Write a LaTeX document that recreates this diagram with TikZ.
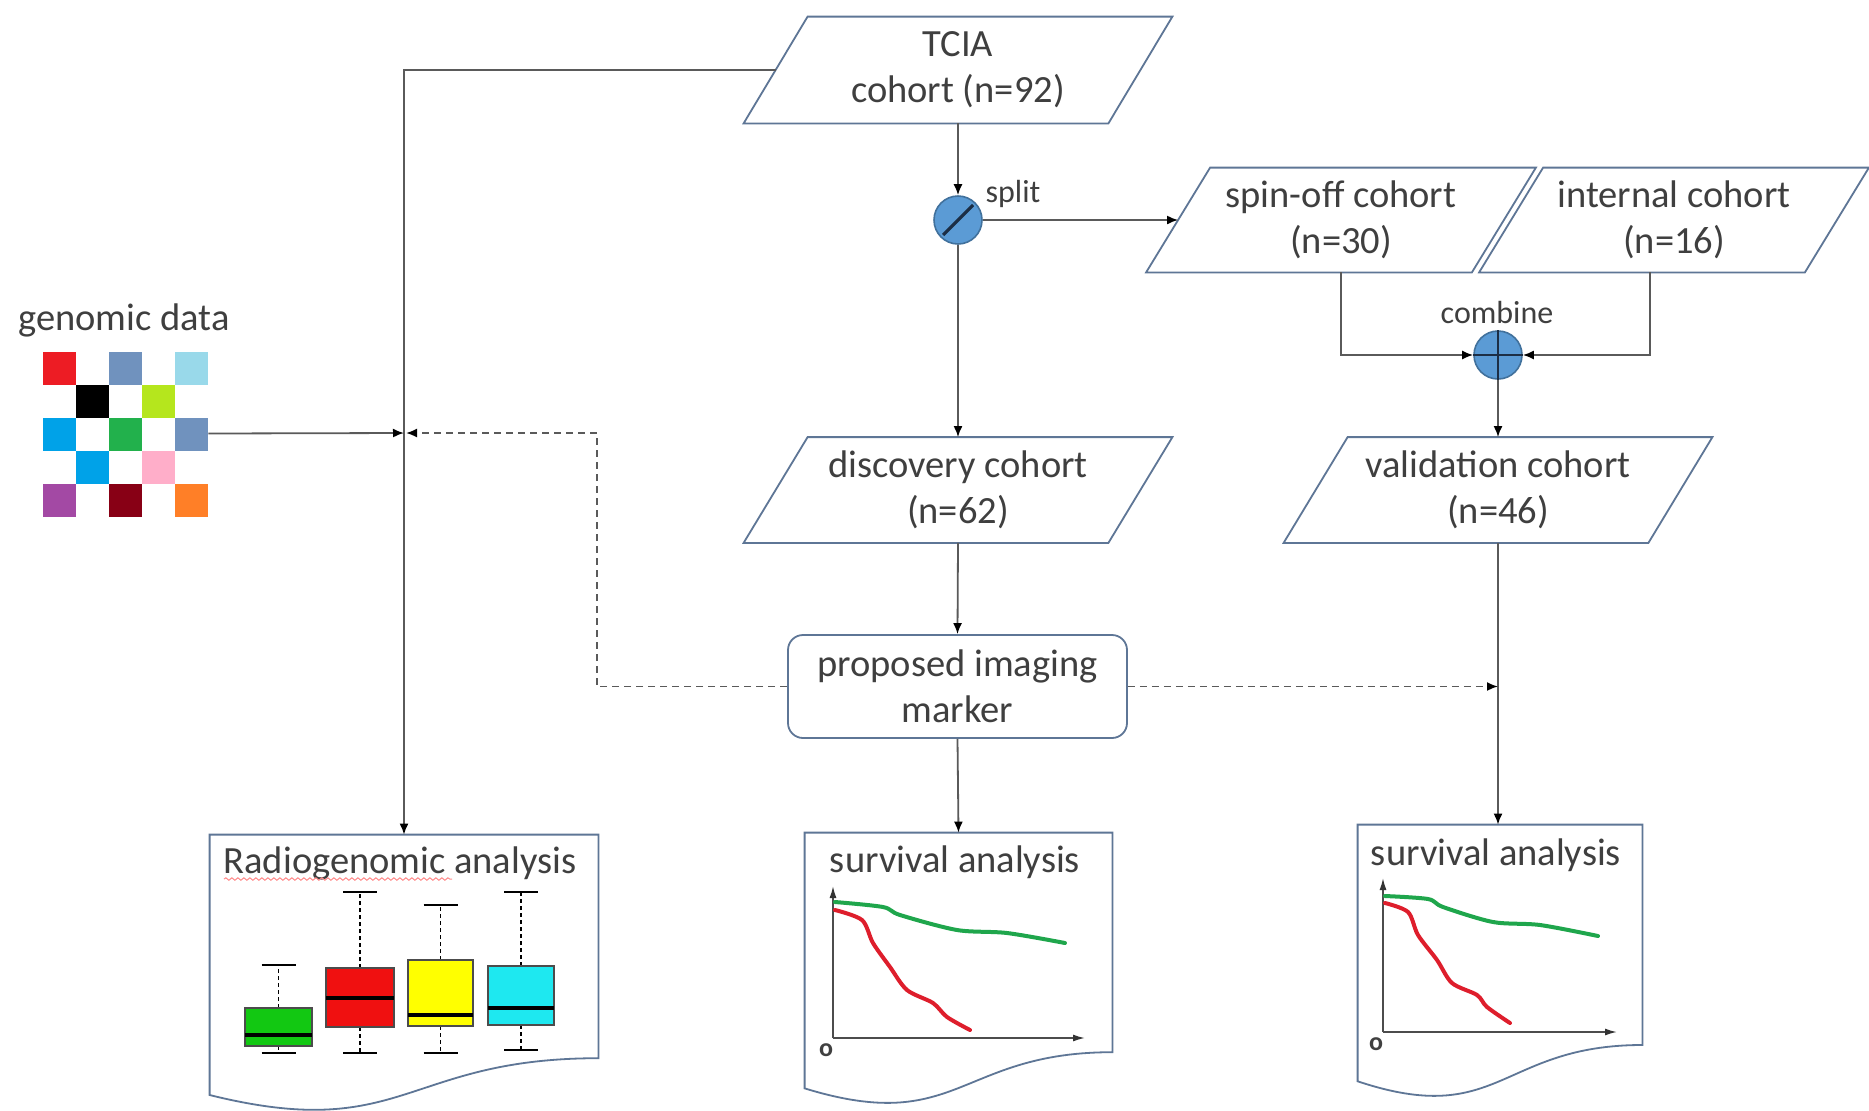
\documentclass[tikz,border=0pt]{standalone}
\usepackage{fontspec}
\setmainfont{Carlito}
\usetikzlibrary{arrows.meta,calc,decorations.pathmorphing}
\definecolor{txt}{HTML}{3F3F3F}
\definecolor{edge}{HTML}{5E7696}
\definecolor{conn}{HTML}{5A5A5A}
\definecolor{cfill}{HTML}{5B9BD5}
\definecolor{cdraw}{HTML}{41719C}
\definecolor{cmark}{HTML}{1C2E45}
\definecolor{gRed}{HTML}{ED1C24}
\definecolor{gSteel}{HTML}{7092BE}
\definecolor{gLight}{HTML}{99D9EA}
\definecolor{gLime}{HTML}{B5E61D}
\definecolor{gBlue}{HTML}{00A2E8}
\definecolor{gGreen}{HTML}{22B14C}
\definecolor{gPink}{HTML}{FFAEC9}
\definecolor{gPurple}{HTML}{A349A4}
\definecolor{gDark}{HTML}{880015}
\definecolor{gOrange}{HTML}{FF7F27}
\definecolor{kmGreen}{HTML}{1FA64C}
\definecolor{kmRed}{HTML}{DE1E2C}
\definecolor{bxGreen}{HTML}{12C812}
\definecolor{bxRed}{HTML}{F01010}
\definecolor{bxYellow}{HTML}{FFFF00}
\definecolor{bxCyan}{HTML}{1EE8F0}
\newcommand\drawpara[1]{\draw[paraline] ([xshift=-16pt]#1.south west) -- ([xshift=16pt]#1.north west) -- ([xshift=16pt]#1.north east) -- ([xshift=-16pt]#1.south east) -- cycle;}
\newcommand\drawdoc[1]{\draw[paraline] (#1.north west) -- (#1.north east) -- ($(#1.north east)!0.802!(#1.south east)$) .. controls ($(#1.north)!0.802!(#1.south)$) and ($(#1.north)!1.107!(#1.south)$) .. ($(#1.north west)!0.934!(#1.south west)$) -- cycle;}
\newcommand\boxp[8]{%
  \draw[whisk] ({(#1+#2)/2},#3) -- ({(#1+#2)/2},#6);
  \draw[whisk] ({(#1+#2)/2},#4) -- ({(#1+#2)/2},#7);
  \draw[capl] ({(#1+#2)/2-17},#6) -- ({(#1+#2)/2+17},#6);
  \draw[capl] ({(#1+#2)/2-17},#7) -- ({(#1+#2)/2+17},#7);
  \filldraw[fill=#8, draw=black!70, line width=0.6pt] (#1,#3) rectangle (#2,#4);
  \draw[line width=2pt, black] (#1,#5) -- (#2,#5);}
\begin{document}
\begin{tikzpicture}[x=0.5pt,y=-0.5pt,
  font=\fontsize{19.25pt}{23pt}\selectfont, text=txt,
  paraline/.style={draw=edge, line width=0.9pt},
  para/.style={minimum height=52.5pt, inner sep=0pt, align=center},
  small/.style={font=\fontsize{16pt}{19pt}\selectfont},
  circ/.style={circle, fill=cfill, draw=cdraw, line width=0.8pt, minimum size=24pt, inner sep=0pt},
  arr/.style={draw=conn, line width=0.9pt, -{Latex[length=5.5pt,width=4.5pt,color=black]}},
  darr/.style={arr, dash pattern=on 3.5pt off 2.5pt},
  whisk/.style={black, line width=0.7pt, dash pattern=on 2pt off 1.5pt},
  capl/.style={black, line width=0.7pt},
  axisl/.style={draw=black!70, line width=0.8pt, -{Latex[length=6pt,width=3.5pt,color=black!80]}},
  km/.style={line width=2pt, line join=round, line cap=round}]
\useasboundingbox (0,0) rectangle (1869,1110);
\fill[white] (0,0) rectangle (1869,1110);

% parallelogram nodes
\node[para, minimum width=182pt, minimum height=53pt] (tcia) at (958,70) {TCIA\\cohort (n=92)};
\node[para, minimum width=162.5pt, minimum height=52pt] (spin) at (1341,220) {spin-off cohort\\(n=30)};
\node[para, minimum width=162.5pt, minimum height=52pt] (internal) at (1674,220) {internal cohort\\(n=16)};
\node[para, minimum width=182pt] (disc) at (958,490) {discovery cohort\\(n=62)};
\node[para, minimum width=182pt] (valid) at (1498,490) {validation cohort\\(n=46)};
\drawpara{tcia}\drawpara{spin}\drawpara{internal}\drawpara{disc}\drawpara{valid}

% marker
\node[draw=edge, line width=0.9pt, rounded corners=7.5pt, minimum width=169.5pt, minimum height=51.5pt, inner sep=0pt, align=center] (marker) at (957.5,686.5) {proposed imaging\\marker};

% operators
\node[circ] (split) at (958,220) {};
\draw[cmark, line width=1.6pt] ($(split.center)+(-15,15)$) -- ($(split.center)+(15,-15)$);
\node[small] (splitl) at (1013,194) {split};
\node[circ] (comb) at (1498,355) {};
\draw[cmark, line width=1.4pt] (comb.north) -- (comb.south) (comb.west) -- (comb.east);
\node[small] (combl) at (1497,312) {combine};

% documents
\node[minimum width=194pt, minimum height=139pt, inner sep=0pt] (rg) at (404,974) {};
\node[minimum width=153.5pt, minimum height=136.5pt, inner sep=0pt] (s1) at (958.5,969.5) {};
\node[minimum width=142pt, minimum height=137pt, inner sep=0pt] (s2) at (1500,962) {};
\drawdoc{rg}\drawdoc{s1}\drawdoc{s2}
\node (rgt) at (400,863) {Radiogenomic analysis};
\draw[red!45, line width=0.5pt, decorate, decoration={snake, amplitude=0.6pt, segment length=3pt}] (224,879) -- (452,879);
\node (s1t) at (955,862) {survival analysis};
\node (s2t) at (1496,855) {survival analysis};

% genomic data grid
\node (genl) at (124,320) {genomic data};
\node[minimum width=82.5pt, minimum height=81.5pt, inner sep=0pt] (gen) at (125.5,433.5) {};
\foreach \c/\r/\col in {0/0/gRed,2/0/gSteel,4/0/gLight,1/1/black,3/1/gLime,0/2/gBlue,2/2/gGreen,4/2/gSteel,1/3/gBlue,3/3/gPink,0/4/gPurple,2/4/gDark,4/4/gOrange}
  \fill[\col] ({43+33*\c},{352+33*\r}) rectangle ++(33,33);

% connectors
\coordinate (jn) at (404,433);
\coordinate (dl) at (597,433);
\draw[arr] (tcia.south) -- (split.north);
\draw[arr] (split.east) -- (spin.west);
\draw[arr] (split.south) -- (disc.north);
\draw[arr] (disc.south) -- (marker.north);
\draw[arr] (marker.south) -- (s1.north);
\draw[arr] (spin.south) |- (comb.west);
\draw[arr] ([xshift=-12pt]internal.south) |- (comb.east);
\draw[arr] (comb.south) -- (valid.north);
\draw[arr] (valid.south) -- (valid.south |- s2.north);
\draw[arr] (tcia.west) -| (rg.north);
\draw[arr] (gen.east) -- (jn);
\draw[darr] (marker.west) -| (dl) -- ([xshift=1pt]jn);
\draw[darr] (marker.east) -- (marker.east -| valid.south);

% boxplots
\boxp{245}{312}{1008}{1046}{1035}{965}{1053}{bxGreen}
\boxp{326}{394}{968}{1027}{998}{892}{1053}{bxRed}
\boxp{408}{473}{960}{1026}{1015}{905}{1053}{bxYellow}
\boxp{488}{554}{966}{1025}{1008}{892}{1050}{bxCyan}

% survival plot 1
\draw[axisl] (833,1038) -- (833,886);
\draw[axisl] (833,1038) -- (1085,1038);
\node[font=\fontsize{13pt}{15pt}\selectfont\bfseries, text=black!75] (o1) at (826,1050) {o};
\draw[km, kmGreen] plot[smooth, tension=0.5] coordinates {(835,902) (883,907) (900,915) (957,930) (1007,933) (1065,943)};
\draw[km, kmRed] plot[smooth, tension=0.5] coordinates {(835,910) (862,920) (873,943) (890,967) (907,990) (933,1003) (947,1017) (970,1030)};

% survival plot 2
\draw[axisl] (1383,1032) -- (1383,878);
\draw[axisl] (1383,1032) -- (1617,1032);
\node[font=\fontsize{13pt}{15pt}\selectfont\bfseries, text=black!75] (o2) at (1376,1044) {o};
\draw[km, kmGreen] plot[smooth, tension=0.5] coordinates {(1385,896) (1428,899) (1443,907) (1493,922) (1540,925) (1598,936)};
\draw[km, kmRed] plot[smooth, tension=0.5] coordinates {(1385,903) (1408,912) (1418,935) (1437,960) (1452,983) (1477,995) (1487,1007) (1510,1023)};
\end{tikzpicture}
\end{document}
